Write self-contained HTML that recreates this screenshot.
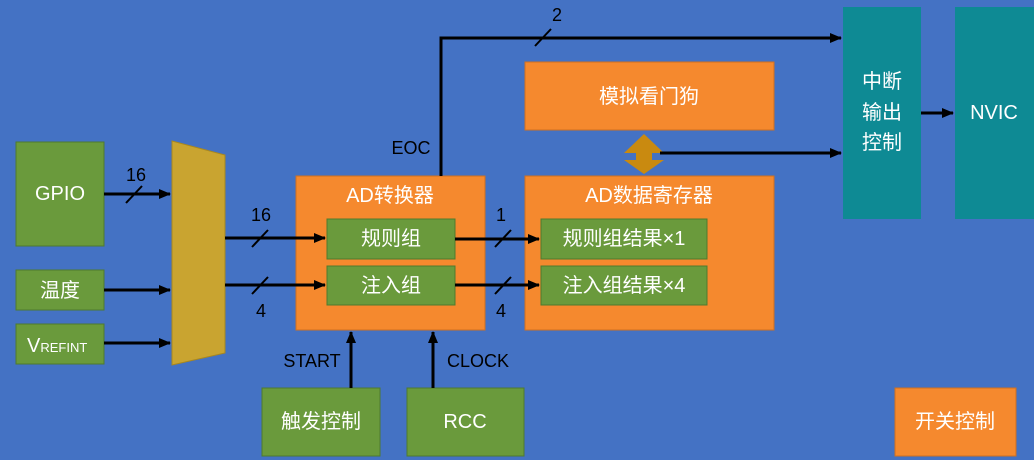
<!DOCTYPE html>
<html><head><meta charset="utf-8"><style>
html,body{margin:0;padding:0;background:#4472c4;}
svg{display:block;font-family:"Liberation Sans","Noto Sans CJK SC",sans-serif;}
</style></head><body>
<svg width="1034" height="460" viewBox="0 0 1034 460" xmlns="http://www.w3.org/2000/svg">
<defs>
<marker id="b" markerWidth="12" markerHeight="10" refX="11" refY="5" orient="auto" markerUnits="userSpaceOnUse" viewBox="0 0 12 10"><path d="M0,0 L12,5 L0,10 z" fill="#000"/></marker>
</defs>
<rect width="1034" height="460" fill="#4472c4"/>
<g stroke="#4e7a2e" stroke-width="1" fill="#6a9a3c">
<rect x="16" y="142" width="88" height="104"/>
<rect x="16" y="270" width="88" height="40"/>
<rect x="16" y="324" width="88" height="40"/>
</g>
<polygon points="172,141 225,155 225,353 172,365" fill="#c9a430" stroke="#a8871f"/>
<g fill="#f5892e" stroke="#d07020">
<rect x="296" y="176" width="189" height="154"/>
<rect x="525" y="62" width="249" height="68"/>
<rect x="525" y="176" width="249" height="154"/>
<rect x="895" y="388" width="121" height="68"/>
</g>
<g fill="#6a9a3c" stroke="#4e7a2e">
<rect x="327" y="219" width="128" height="40"/>
<rect x="327" y="266" width="128" height="39"/>
<rect x="541" y="219" width="166" height="40"/>
<rect x="541" y="266" width="166" height="39"/>
<rect x="262" y="388" width="118" height="68"/>
<rect x="407" y="388" width="117" height="68"/>
</g>
<rect x="843" y="7" width="78" height="212" fill="#0e8a94"/>
<rect x="955" y="7" width="79" height="212" fill="#0e8a94"/>
<polygon points="644,134 664,153 652,153 652,160 664,160 644,174 624,160 636,160 636,153 624,153" fill="#c98a10"/>
<g stroke="#000" stroke-width="3" fill="none">
<line x1="104" y1="194" x2="170" y2="194" marker-end="url(#b)"/>
<line x1="104" y1="290" x2="170" y2="290" marker-end="url(#b)"/>
<line x1="104" y1="343" x2="170" y2="343" marker-end="url(#b)"/>
<line x1="225" y1="238" x2="325" y2="238" marker-end="url(#b)"/>
<line x1="225" y1="285" x2="325" y2="285" marker-end="url(#b)"/>
<line x1="455" y1="239" x2="539" y2="239" marker-end="url(#b)"/>
<line x1="455" y1="285" x2="539" y2="285" marker-end="url(#b)"/>
<polyline points="441,176 441,38 841,38" marker-end="url(#b)"/>
<line x1="660" y1="153" x2="841" y2="153" marker-end="url(#b)"/>
<line x1="921" y1="113" x2="953" y2="113" marker-end="url(#b)"/>
<line x1="351" y1="388" x2="351" y2="332" marker-end="url(#b)"/>
<line x1="433" y1="388" x2="433" y2="332" marker-end="url(#b)"/>
</g>
<g stroke="#000" stroke-width="2">
<line x1="126" y1="203" x2="142" y2="186"/>
<line x1="252" y1="247" x2="268" y2="230"/>
<line x1="252" y1="294" x2="268" y2="277"/>
<line x1="495" y1="247" x2="511" y2="230"/>
<line x1="495" y1="294" x2="511" y2="277"/>
<line x1="535" y1="46" x2="551" y2="29"/>
</g>
<g fill="#fff" font-size="20" text-anchor="middle" dominant-baseline="central">
<text x="60" y="194">GPIO</text>
<text x="60" y="291">温度</text>
<text x="390" y="196">AD转换器</text>
<text x="391" y="239">规则组</text>
<text x="391" y="286">注入组</text>
<text x="649" y="97">模拟看门狗</text>
<text x="649" y="196">AD数据寄存器</text>
<text x="624" y="239">规则组结果×1</text>
<text x="624" y="286">注入组结果×4</text>
<text x="321" y="422">触发控制</text>
<text x="465" y="422">RCC</text>
<text x="955" y="422">开关控制</text>
<text x="882" y="82">中断</text>
<text x="882" y="113">输出</text>
<text x="882" y="143">控制</text>
<text x="994" y="113">NVIC</text>
</g>
<text x="27" y="352" fill="#fff" font-size="20">V<tspan font-size="13">REFINT</tspan></text>
<g fill="#000" font-size="18" text-anchor="middle">
<text x="136" y="181">16</text>
<text x="261" y="221">16</text>
<text x="261" y="317">4</text>
<text x="501" y="221">1</text>
<text x="501" y="317">4</text>
<text x="557" y="21">2</text>
<text x="411" y="154">EOC</text>
<text x="312" y="367">START</text>
<text x="478" y="367">CLOCK</text>
</g>
</svg>
</body></html>
